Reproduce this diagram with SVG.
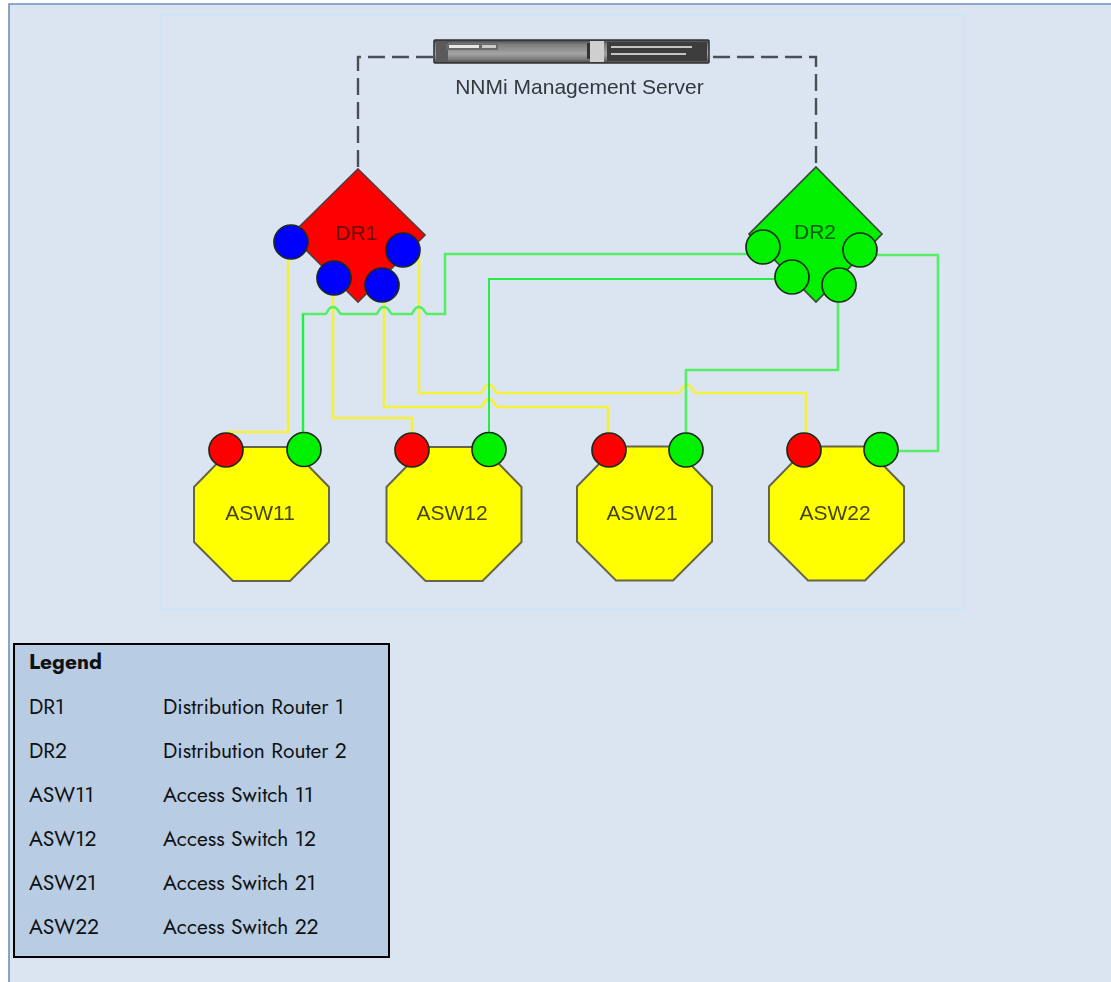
<svg xmlns="http://www.w3.org/2000/svg" width="1111" height="982" viewBox="0 0 1111 982">
<defs>
<linearGradient id="srv" x1="0" y1="0" x2="0" y2="1"><stop offset="0" stop-color="#444"/><stop offset="0.18" stop-color="#7c7c7c"/><stop offset="0.6" stop-color="#a4a4a4"/><stop offset="0.85" stop-color="#777"/><stop offset="1" stop-color="#444"/></linearGradient>
<polygon id="octagon" points="-67.500,-28 -28.500,-68 28.500,-68 67.500,-28 67.500,27 28.500,66 -28.500,66 -67.500,27"/>
<filter id="soft" x="-5%" y="-5%" width="110%" height="110%"><feGaussianBlur stdDeviation="0.55"/></filter>
</defs>
<style>
.art{filter:url(#soft)}
.oct{fill:#ffff00;stroke:#66664a;stroke-width:2}
.port{stroke:#1c2a1c;stroke-width:1.7}
.blue{fill:#0000ff}.red{fill:#ff0000}.green{fill:#00f000}
.lbl{font-family:"Liberation Sans",Arial,sans-serif;font-size:21px;text-anchor:middle}
.yl{fill:none;stroke:#f5f03c;stroke-width:2.6}
.gl{fill:none;stroke:#55ee66;stroke-width:2.6}
.gt{fill:none;stroke:#22ee44;stroke-width:2}
.dash{fill:none;stroke:#4a4f55;stroke-width:2.4;stroke-dasharray:17 7}
.lg{font-family:"Jost","Lato","Open Sans",sans-serif;font-size:21px;fill:#111}
</style>
<rect x="0" y="0" width="1111" height="982" fill="#ffffff"/>
<rect x="9" y="4" width="1102" height="978" fill="#dbe5f1"/>
<path d="M9 982V4H1111" fill="none" stroke="#6f8fba" stroke-width="1.6"/>
<rect x="161" y="15" width="803" height="594" fill="#dbe5f1" stroke="#cfe4f4" stroke-width="2"/>
<g id="connectors" class="art">
<path class="dash" d="M433 57H358V168"/>
<path class="dash" d="M713 57H816V167"/>
<path class="yl" d="M288 260V432H225"/>
<path class="yl" d="M333 295V418H412V436"/>
<path class="yl" d="M384 300V407H480C484 407 483 399 489 399C495 399 494 407 498 407H608V436"/>
<path class="yl" d="M419 255V393H480C484 393 483 385 489 385C495 385 494 393 498 393H678C682 393 681 385 687 385C693 385 692 393 696 393H806V436"/>
<path class="gl" d="M750 254H445V314H428C424 314 425 307 419 307C413 307 414 314 411 314H393C389 314 390 307 384 307C378 307 379 314 376 314H342C338 314 339 307 333 307C327 307 328 314 325 314H303V436"/>
<path class="gt" d="M303 314V436"/>
<path class="gt" d="M778 279H489V436"/>
<path class="gl" d="M838 300V370H686V436"/>
<path class="gl" d="M875 255H938V451H898"/>
</g>
<g id="server" class="art">
<rect x="434" y="40" width="275" height="23" rx="1" fill="url(#srv)" stroke="#333" stroke-width="1.6"/>
<rect x="436" y="42" width="12" height="19" fill="#5a5a5a"/>
<rect x="446" y="44" width="52" height="6" fill="#6a6a6a"/>
<rect x="449" y="45" width="30" height="3" fill="#e8e8e8"/>
<rect x="482" y="45" width="14" height="3" fill="#cccccc"/>
<rect x="587" y="43" width="3" height="16" fill="#333"/>
<rect x="590" y="41" width="14" height="21" fill="#cfcfcf"/>
<rect x="607" y="42" width="100" height="19" fill="#3e3e3e"/>
<path d="M611 47H692M611 54H686" stroke="#c4c4c4" stroke-width="2"/>
<text x="579.500" y="94" font-family="Liberation Sans,Arial,sans-serif" font-size="21" fill="#33383c" text-anchor="middle">NNMi Management Server</text>
</g>
<g id="DR1" class="art">
<polygon points="358,169 425,235 358,302 291,235" fill="#ff0000" stroke="#5a3a3a" stroke-width="1.7"/>
<text class="lbl" x="356.500" y="240" fill="#6a0a0a">DR1</text>
<circle class="port blue" cx="291" cy="242" r="17"/>
<circle class="port blue" cx="334" cy="278" r="17"/>
<circle class="port blue" cx="382" cy="285" r="17"/>
<circle class="port blue" cx="403" cy="250" r="17"/>
</g>
<g id="DR2" class="art">
<polygon points="816,167 882,234 816,302 749,234" fill="#00f000" stroke="#3a4a3a" stroke-width="1.7"/>
<text class="lbl" x="815" y="239" fill="#0a5a0a">DR2</text>
<circle class="port green" cx="763" cy="247" r="17"/>
<circle class="port green" cx="792" cy="277" r="17"/>
<circle class="port green" cx="839" cy="285" r="17"/>
<circle class="port green" cx="860" cy="250" r="17"/>
</g>
<g id="ASW11" class="art">
<use href="#octagon" class="oct" x="261.500" y="515"/>
<text class="lbl" x="260" y="520" fill="#44440f">ASW11</text>
<circle class="port red" cx="226" cy="450" r="17"/>
<circle class="port green" cx="304" cy="449.500" r="17"/>
</g>
<g id="ASW12" class="art">
<use href="#octagon" class="oct" x="454" y="515"/>
<text class="lbl" x="452" y="520" fill="#44440f">ASW12</text>
<circle class="port red" cx="412" cy="450" r="17"/>
<circle class="port green" cx="489" cy="449.500" r="17"/>
</g>
<g id="ASW21" class="art">
<use href="#octagon" class="oct" x="644.500" y="514.500"/>
<text class="lbl" x="642" y="520" fill="#44440f">ASW21</text>
<circle class="port red" cx="609" cy="450" r="17"/>
<circle class="port green" cx="686" cy="450" r="17"/>
</g>
<g id="ASW22" class="art">
<use href="#octagon" class="oct" x="836.500" y="514.500"/>
<text class="lbl" x="835" y="520" fill="#44440f">ASW22</text>
<circle class="port red" cx="804" cy="450" r="17"/>
<circle class="port green" cx="881" cy="449.500" r="17"/>
</g>
<g id="legend">
<rect x="14" y="644" width="375" height="313" fill="#b8cce4" stroke="#000" stroke-width="2"/>
<text class="lg" x="29" y="669" font-weight="700">Legend</text>
<text class="lg" x="29" y="714">DR1</text><text class="lg" x="163" y="714">Distribution Router 1</text>
<text class="lg" x="29" y="758">DR2</text><text class="lg" x="163" y="758">Distribution Router 2</text>
<text class="lg" x="29" y="802">ASW11</text><text class="lg" x="163" y="802">Access Switch 11</text>
<text class="lg" x="29" y="846">ASW12</text><text class="lg" x="163" y="846">Access Switch 12</text>
<text class="lg" x="29" y="890">ASW21</text><text class="lg" x="163" y="890">Access Switch 21</text>
<text class="lg" x="29" y="934">ASW22</text><text class="lg" x="163" y="934">Access Switch 22</text>
</g>
</svg>
